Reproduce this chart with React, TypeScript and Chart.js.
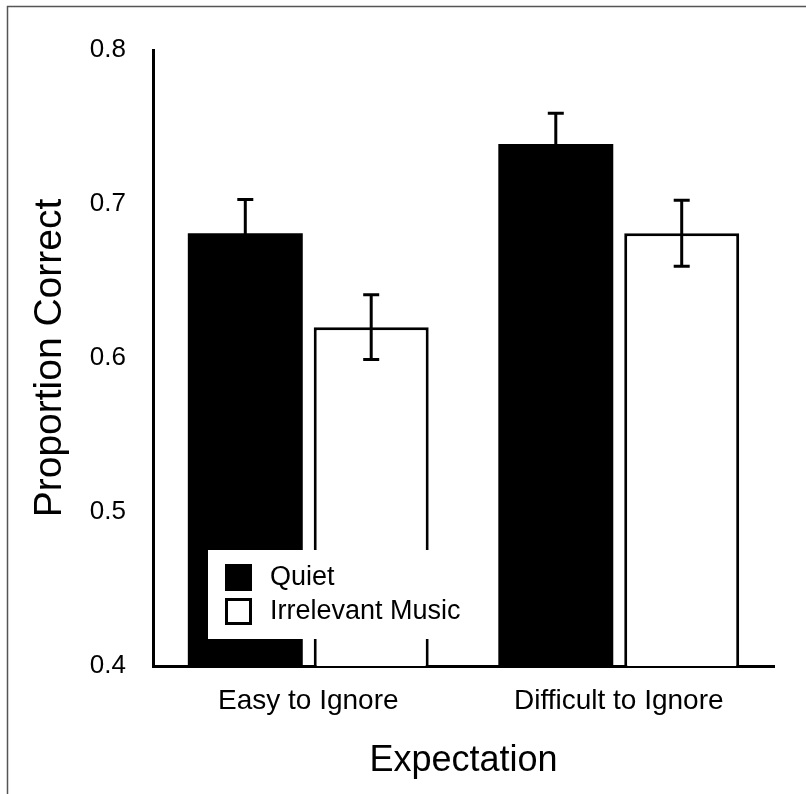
import React, { useEffect, useRef } from "react";
import { Chart, registerables } from "chart.js";

Chart.register(...registerables);

const categories = ["Easy to Ignore", "Difficult to Ignore"];
const seriesLabels = ["Quiet", "Irrelevant Music"];
const quietValues = [0.681, 0.739];
const quietErrors = [0.022, 0.02];
const musicValues = [0.62, 0.681];
const musicErrors = [0.021, 0.0215];
const yTicks = [0.4, 0.5, 0.6, 0.7, 0.8];
const yTitle = "Proportion Correct";
const xTitle = "Expectation";

const FONT = "'Liberation Sans', Arial, Helvetica, sans-serif";

const errorBarPlugin = {
  id: "errorBars",
  afterDatasetsDraw(chart: any) {
    const ctx = chart.ctx;
    const y = chart.scales.y;
    const errs = [quietErrors, musicErrors];
    chart.data.datasets.forEach((ds: any, i: number) => {
      const meta = chart.getDatasetMeta(i);
      meta.data.forEach((bar: any, j: number) => {
        const v = ds.data[j];
        const e = errs[i][j];
        const x = bar.x;
        const yt = y.getPixelForValue(v + e);
        const yb = y.getPixelForValue(v - e);
        ctx.save();
        ctx.strokeStyle = "#000";
        ctx.lineWidth = 3;
        ctx.beginPath();
        ctx.moveTo(x, yt);
        ctx.lineTo(x, yb);
        ctx.moveTo(x - 8, yt);
        ctx.lineTo(x + 8, yt);
        ctx.moveTo(x - 8, yb);
        ctx.lineTo(x + 8, yb);
        ctx.stroke();
        ctx.restore();
      });
    });
  },
};

const legendPlugin = {
  id: "insideLegend",
  afterDraw(chart: any) {
    const ctx = chart.ctx;
    const area = chart.chartArea;
    const left = area.left + 55;
    const top = area.bottom - 116;
    ctx.save();
    ctx.fillStyle = "#fff";
    ctx.fillRect(left, top, 262, 89);
    const fills = ["#000", "#fff"];
    seriesLabels.forEach((lab, i) => {
      const sy = top + 14 + i * 34;
      ctx.fillStyle = fills[i];
      ctx.fillRect(left + 17, sy, 27, 27);
      ctx.strokeStyle = "#000";
      ctx.lineWidth = 3;
      ctx.strokeRect(left + 18.5, sy + 1.5, 24, 24);
      ctx.fillStyle = "#000";
      ctx.font = `27px ${FONT}`;
      ctx.textBaseline = "middle";
      ctx.textAlign = "left";
      ctx.fillText(lab, left + 62, sy + 14);
    });
    ctx.restore();
  },
};

const framePlugin = {
  id: "frame",
  beforeDraw(chart: any) {
    const ctx = chart.ctx;
    ctx.save();
    ctx.fillStyle = "#fff";
    ctx.fillRect(0, 0, chart.width, chart.height);
    ctx.strokeStyle = "#555";
    ctx.lineWidth = 1.5;
    ctx.beginPath();
    ctx.moveTo(7.5, chart.height);
    ctx.lineTo(7.5, 6.5);
    ctx.lineTo(chart.width, 6.5);
    ctx.stroke();
    ctx.restore();
  },
};

export default function App() {
  const ref = useRef<HTMLCanvasElement | null>(null);

  useEffect(() => {
    if (!ref.current) return;
    Chart.defaults.font.family = FONT;
    Chart.defaults.color = "#000";
    const chart = new Chart(ref.current, {
      type: "bar",
      data: {
        labels: categories,
        datasets: [
          {
            label: seriesLabels[0],
            data: quietValues,
            backgroundColor: "#000",
            borderColor: "#000",
            borderWidth: 0,
            categoryPercentage: 0.811,
            barPercentage: 0.913,
          },
          {
            label: seriesLabels[1],
            data: musicValues,
            backgroundColor: "#fff",
            borderColor: "#000",
            borderWidth: 3,
            categoryPercentage: 0.811,
            barPercentage: 0.913,
          },
        ],
      },
      options: {
        responsive: false,
        animation: false,
        layout: { padding: { top: 50, right: 32, left: 0, bottom: 0 } },
        plugins: {
          legend: { display: false },
          tooltip: { enabled: false },
          title: { display: false },
        },
        scales: {
          x: {
            type: "category",
            grid: { display: false, drawTicks: false, tickLength: 0 },
            border: { display: true, color: "#000", width: 3 },
            ticks: { font: { size: 28 }, color: "#000", padding: 18, maxRotation: 0 },
            title: {
              display: true,
              text: xTitle,
              color: "#000",
              font: { size: 36 },
              padding: { top: 0, bottom: 11 },
            },
            afterFit: (s: any) => {
              s.height = 128;
            },
          },
          y: {
            min: 0.4,
            max: 0.8,
            grid: { display: false, drawTicks: false, tickLength: 0 },
            border: { display: true, color: "#000", width: 3 },
            afterBuildTicks: (s: any) => {
              s.ticks = yTicks.map((v) => ({ value: v }));
            },
            ticks: {
              font: { size: 26 },
              color: "#000",
              padding: 27,
              callback: (v: any) => Number(v).toFixed(1),
            },
            title: {
              display: true,
              text: yTitle,
              color: "#000",
              font: { size: 39 },
              padding: { top: 27, bottom: 0 },
            },
            afterFit: (s: any) => {
              s.width = 153;
            },
          },
        },
      },
      plugins: [framePlugin, errorBarPlugin, legendPlugin],
    });
    return () => chart.destroy();
  }, []);

  return (
    <div style={{ position: "absolute", left: 0, top: 0, width: 806, height: 794, background: "#fff" }}>
      <canvas ref={ref} width={806} height={794} style={{ display: "block" }} />
    </div>
  );
}
